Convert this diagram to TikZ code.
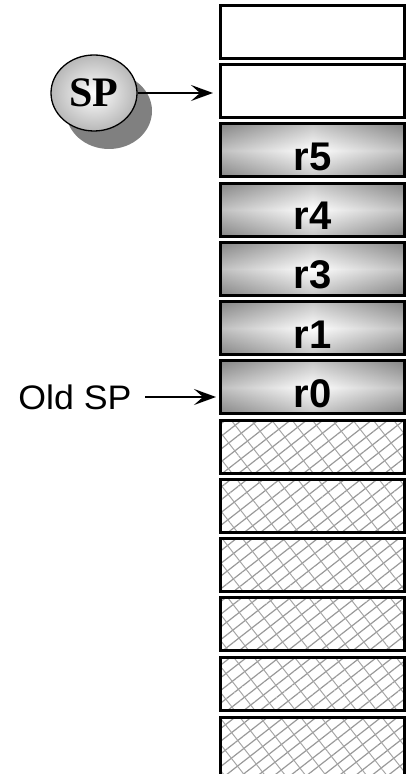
\documentclass[tikz,border=0pt]{standalone}
\usepackage{fontspec}
\setmainfont{Liberation Sans}
\newfontfamily\timesfont{Liberation Serif}
\usetikzlibrary{shapes.geometric,shadows,patterns.meta,arrows.meta}

\tikzset{
	cell/.style={draw=black, line width=3pt, minimum width=184pt, minimum height=53pt, inner sep=0pt},
	regcell/.style={cell, left color=black!45, right color=black!45, middle color=white,
		path picture={\shade[top color=black!50, bottom color=black!50, middle color=white, opacity=.45]
			(path picture bounding box.south west) rectangle (path picture bounding box.north east);},
		font=\fontsize{40}{40}\selectfont\bfseries, text height=40pt, text depth=0pt},
	hatchcell/.style={cell, pattern={Lines[angle=38, distance=10pt, line width=1.2pt]}, pattern color=black!40,
		path picture={\fill[pattern={Lines[angle=-52, distance=16pt, line width=1pt]}, pattern color=black!35]
			(path picture bounding box.south west) rectangle (path picture bounding box.north east);}},
	ptr/.style={line width=2pt, -{Stealth[length=22pt, width=16pt, inset=9pt]}}
}

\begin{document}
	\begin{tikzpicture}[x=1pt, y=1pt]
		\useasboundingbox (0, 0) rectangle (407, 774);
		% stack cells
		\node[cell] (c0) at (312.5, 742) {};
		\node[cell] (c1) at (312.5, 682.75) {};
		\node[regcell] (r5) at (312.5, 623.5) {r5};
		\node[regcell] (r4) at (312.5, 564.25) {r4};
		\node[regcell] (r3) at (312.5, 505) {r3};
		\node[regcell] (r1) at (312.5, 445.75) {r1};
		\node[regcell] (r0) at (312.5, 386.5) {r0};
		\node[hatchcell] (h1) at (312.5, 327.25) {};
		\node[hatchcell] (h2) at (312.5, 268) {};
		\node[hatchcell] (h3) at (312.5, 208.75) {};
		\node[hatchcell] (h4) at (312.5, 149.5) {};
		\node[hatchcell] (h5) at (312.5, 90.25) {};
		\node[hatchcell, minimum height=80pt, anchor=north] (h6) at (312.5, 57.75) {};
		% stack pointer
		\node[ellipse, draw=black, line width=1.3pt, minimum width=86pt, minimum height=76pt,
			inner color=white, outer color=black!28,
			drop shadow={shadow xshift=15pt, shadow yshift=-18pt, fill=black!50, opacity=1},
			font=\timesfont\fontsize{42}{42}\selectfont\bfseries] (sp) at (94, 681) {SP};
		\draw[ptr, shorten >=6pt] (sp.east) -- (sp.east -| c1.west);
		\node[font=\fontsize{34}{34}\selectfont, xscale=1.05] (old) at (75, 377) {Old SP};
		\draw[ptr, shorten <=10pt, shorten >=3pt] (old.east) -- (old.east -| r0.west);
	\end{tikzpicture}
\end{document}
